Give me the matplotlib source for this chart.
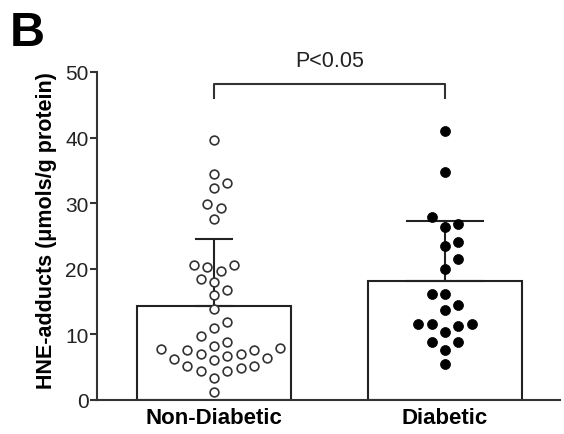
import numpy as np
import matplotlib
from matplotlib import pyplot as plt

matplotlib.use("Agg")

plt.rcParams["font.family"] = ["Liberation Sans", "DejaVu Sans"]

groups = ["Non-Diabetic", "Diabetic"]
means = [14.25, 18.07]
sds = [10.25, 9.13]

non_diabetic = [
    39.7, 34.5, 33.1, 32.3, 29.9, 29.3, 27.5,
    20.5, 20.2, 19.7, 20.5,
    18.4, 17.9, 16.7, 15.9, 13.9, 11.9, 10.9, 9.7, 8.8, 8.2,
    7.75, 7.6, 7.0, 6.3, 6.1, 6.2, 6.6, 7.0, 7.6, 7.85,
    5.1, 4.9, 4.4, 4.4, 5.1, 3.3, 1.1,
]
diabetic = [
    41.0, 34.8, 27.9, 26.8, 26.3, 23.5, 24.0, 21.5, 19.9, 16.1, 16.1,
    14.4, 13.7, 11.6, 11.5, 11.3, 11.5, 10.3, 8.8, 8.8, 7.6, 5.5,
]
p_text = "P<0.05"


def swarm_offsets(ys_px, diam):
    # greedy beeswarm: place each point as close to the centre as possible
    order = np.argsort(ys_px)
    placed = []
    offsets = np.zeros(len(ys_px))
    step = diam / 2.0
    for i in order:
        y = ys_px[i]
        k = 0
        while True:
            cands = [0.0] if k == 0 else [k * step, -k * step]
            ok = None
            for c in cands:
                if all((c - px) ** 2 + (y - py) ** 2 >= (diam * 0.98) ** 2 for px, py in placed):
                    ok = c
                    break
            if ok is not None:
                offsets[i] = ok
                placed.append((ok, y))
                break
            k += 1
    return offsets


fig = plt.figure(figsize=(5.64, 4.35), dpi=100)
ax = fig.add_axes([97 / 564, 34.3 / 435, 463 / 564, 327.7 / 435])

x = np.arange(len(groups))
ax.set_xlim(-0.506, 1.498)
ax.set_ylim(0, 50)

edge = "#222222"
ax.bar(x, means, width=0.67, color="white", edgecolor=edge, linewidth=1.5, zorder=1)

# upward-only error bars, caps of different width
for xi, m, s, cap in zip(x, means, sds, [14, 28]):
    ax.errorbar([xi], [m], yerr=[[0], [s]], fmt="none", ecolor=edge,
                elinewidth=1.5, capsize=cap, capthick=1.5, zorder=2)

# scatter points laid out in pixel space
styles = [dict(marker="o", ms=6.3, mfc="white", mec="#333333", mew=1.2),
          dict(marker="o", ms=7.2, mfc="black", mec="black", mew=0.5)]
for xi, vals, st in zip(x, [non_diabetic, diabetic], styles):
    vals = np.asarray(vals)
    pts = ax.transData.transform(np.column_stack([np.full(len(vals), xi), vals]))
    off = swarm_offsets(pts[:, 1], 13.3)
    pts[:, 0] += off
    data = ax.transData.inverted().transform(pts)
    ax.plot(data[:, 0], vals, ls="none", zorder=3, **st)

# significance bracket
ax.plot([0, 0, 1, 1], [46.1, 48.2, 48.2, 46.1], color="#333333", lw=1.5, clip_on=False)
ax.text(0.5, 51.7, p_text, ha="center", va="center", fontsize=15.5, color="#222222")

ax.spines["top"].set_visible(False)
ax.spines["right"].set_visible(False)
for sp in ("left", "bottom"):
    ax.spines[sp].set_linewidth(1.5)
    ax.spines[sp].set_color("#333333")

ax.set_yticks([0, 10, 20, 30, 40, 50])
ax.tick_params(axis="y", length=5, width=1.5, color="#333333", labelsize=15,
               labelcolor="#222222", pad=1)
ax.set_xticks(x)
ax.set_xticklabels(groups, fontweight="bold", fontsize=16)
ax.tick_params(axis="x", length=0, pad=5)

fig.text(47 / 564, 1 - 231 / 435, "HNE-adducts (\u03bcmols/g protein)", rotation=90,
         ha="center", va="center", fontsize=15.5, fontweight="bold")
fig.text(10 / 564, 1 - 34 / 435, "B", ha="left", va="center", fontsize=35, fontweight="bold")

fig.savefig("out.png", dpi=100)
